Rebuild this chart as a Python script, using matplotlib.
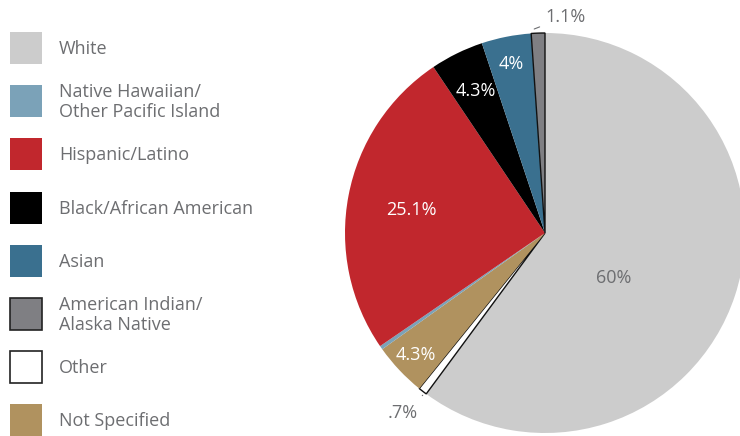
import matplotlib.pyplot as plt
import numpy as np
from matplotlib.patches import Rectangle

# legend order
legend_names = ['White', 'Native Hawaiian/\nOther Pacific Island', 'Hispanic/Latino',
                'Black/African American', 'Asian', 'American Indian/\nAlaska Native',
                'Other', 'Not Specified']
legend_colors = ['#cccccc', '#7ba2b8', '#c1272d', '#000000', '#3a708f',
                 '#7f7f83', '#ffffff', '#b0925f']
legend_edges = ['none', 'none', 'none', 'none', 'none', '#222222', '#222222', 'none']

# pie order, clockwise from top
pie_names = ['White', 'Other', 'Not Specified', 'Native Hawaiian/\nOther Pacific Island',
             'Hispanic/Latino', 'Black/African American', 'Asian',
             'American Indian/\nAlaska Native']
pie_values = [60, 0.7, 4.3, 0.3, 25.1, 4.3, 4, 1.1]
pie_labels = ['60%', '.7%', '4.3%', '', '25.1%', '4.3%', '4%', '1.1%']

txt_grey = '#6d6e71'
fs = 13

fig = plt.figure(figsize=(7.4, 4.36), dpi=100)
W, H = 740, 436

# legend drawn in pixel space
lax = fig.add_axes([0, 0, 1, 1])
lax.set_xlim(0, W)
lax.set_ylim(H, 0)
lax.axis('off')
for i, (n, c, e) in enumerate(zip(legend_names, legend_colors, legend_edges)):
    yc = 48 + i * 53.2
    lax.add_patch(Rectangle((10, yc - 16), 32, 32, facecolor=c, edgecolor=e, lw=1.2))
    lax.text(59, yc + 1, n, fontsize=fs, color=txt_grey, va='center', ha='left',
             family='Open Sans', linespacing=1.12)

# pie: center (545,233), radius 200 px
ax = fig.add_axes([345 / W, 3 / H, 400 / W, 400 / H])
wedges, _ = ax.pie(pie_values, colors=[legend_colors[legend_names.index(n)] for n in pie_names],
                   startangle=90, counterclock=False, radius=1,
                   wedgeprops=dict(linewidth=0))
for w, n in zip(wedges, pie_names):
    if n in ('Other', 'American Indian/\nAlaska Native'):
        w.set_edgecolor('#111111')
        w.set_linewidth(1.0)
ax.set_xlim(-1, 1)
ax.set_ylim(-1, 1)
ax.set_aspect('equal')
ax.axis('off')

# inside labels: (radius, angle offset)
inside = {'60%': (0.41, -15), '4.3%': (0.85, 0), '25.1%': (0.68, 1), '4%': (0.86, 0)}
for w, lab, n in zip(wedges, pie_labels, pie_names):
    mid = np.deg2rad((w.theta1 + w.theta2) / 2)
    if lab in ('60%', '25.1%', '4%', '4.3%'):
        r, off = inside[lab]
        if n == 'Black/African American':
            r = 0.79
        elif n == 'Not Specified':
            r = 0.89
        a = mid + np.deg2rad(off)
        col = txt_grey if lab == '60%' else 'white'
        ax.text(r * np.cos(a), r * np.sin(a), lab, ha='center', va='center',
                fontsize=fs, color=col, family='Open Sans')
    elif lab == '1.1%':
        ax.annotate(lab, xy=(0.98 * np.cos(mid) - 0.02, 1.02), xytext=(0.0, 1.08),
                    ha='left', va='center', fontsize=fs, color=txt_grey,
                    family='Open Sans', annotation_clip=False,
                    arrowprops=dict(arrowstyle='-', color=txt_grey, lw=0.8,
                                    shrinkA=2, shrinkB=0))
    elif lab == '.7%':
        ax.annotate(lab, xy=(1.0 * np.cos(mid), 1.0 * np.sin(mid) - 0.02),
                    xytext=(-0.71, -0.9), ha='center', va='center', fontsize=fs,
                    color=txt_grey, family='Open Sans', annotation_clip=False,
                    arrowprops=dict(arrowstyle='-', color=txt_grey, lw=0.8,
                                    shrinkA=6, shrinkB=0))

fig.savefig('out.png', dpi=100)
